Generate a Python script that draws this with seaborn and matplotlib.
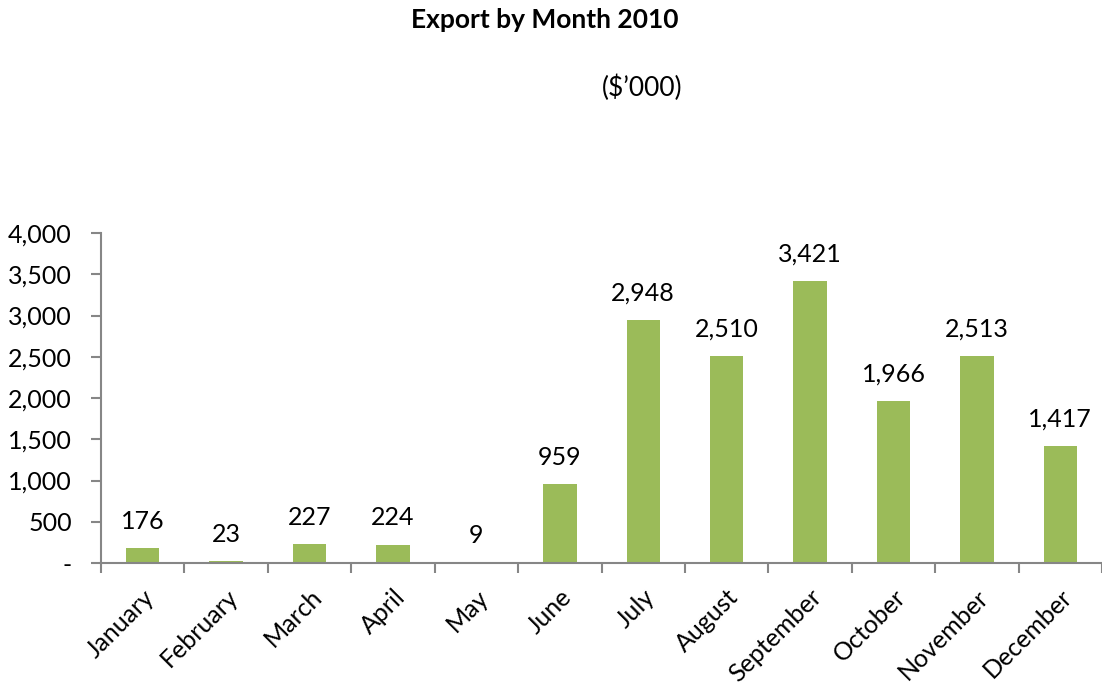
import matplotlib
matplotlib.use("Agg")
import matplotlib.pyplot as plt
from matplotlib.ticker import FixedLocator, FuncFormatter
import seaborn as sns
import pandas as pd

months = ["January", "February", "March", "April", "May", "June", "July",
          "August", "September", "October", "November", "December"]
exports = [176, 23, 227, 224, 9, 959, 2948, 2510, 3421, 1966, 2513, 1417]
title = "Export by Month 2010"
subtitle = "($\u2019000)"

sns.set_theme(style="white")
plt.rcParams["font.family"] = ["Lato", "DejaVu Sans"]

df = pd.DataFrame({"month": months, "export": exports})

fig = plt.figure(figsize=(11.02, 6.92), dpi=100)
ax = fig.add_axes([0.0917, 0.1864, 0.9083, 0.4769])

sns.barplot(data=df, x="month", y="export", color="#9BBB59", width=0.4,
            saturation=1, ax=ax, edgecolor="none")

ax.set_xlim(-0.5, len(months) - 0.5)
ax.set_ylim(0, 4000)
ax.set_yticks(range(0, 4001, 500))
ax.yaxis.set_major_formatter(FuncFormatter(lambda v, p: "-" if v == 0 else f"{int(v):,}"))

ax.set_xlabel("")
ax.set_ylabel("")

for s in ["top", "right"]:
    ax.spines[s].set_visible(False)
for s in ["left", "bottom"]:
    ax.spines[s].set_color("#868686")
    ax.spines[s].set_linewidth(1.5)

ax.tick_params(axis="y", which="major", direction="out", length=7, width=1.5,
               color="#868686", labelsize=18, pad=14, left=True, labelcolor="black")
ax.tick_params(axis="x", which="major", length=0, labelsize=18, pad=16, labelcolor="black")
ax.xaxis.set_minor_locator(FixedLocator([i - 0.5 for i in range(len(months) + 1)]))
ax.tick_params(axis="x", which="minor", direction="out", length=7, width=1.5,
               color="#868686", bottom=True)
plt.setp(ax.get_xticklabels(), rotation=45, ha="right", rotation_mode="anchor")

for i, v in enumerate(exports):
    ax.annotate(f"{v:,}", (i, v), xytext=(0, 11), textcoords="offset points",
                ha="center", va="bottom", fontsize=18, color="black")

fig.text(0.494, 0.971, title, ha="center", va="center", fontsize=19,
         fontweight="bold", color="black")
fig.text(0.583, 0.873, subtitle, ha="center", va="center", fontsize=19, color="black")

fig.savefig("out.png", dpi=100)
